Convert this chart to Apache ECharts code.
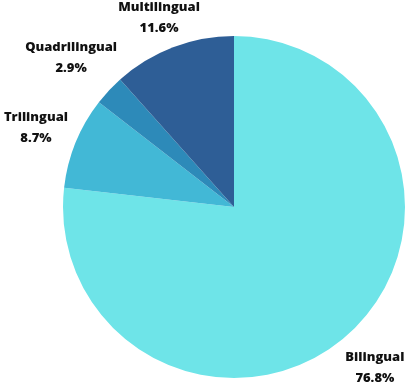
<!DOCTYPE html>
<html><head><meta charset="utf-8">
<script src="https://cdn.jsdelivr.net/npm/echarts@6/dist/echarts.min.js"></script>
<style>html,body{margin:0;padding:0;background:#fff}#c{width:406px;height:382px}</style>
</head><body><div id="c"></div>
<script>
const categories = ['Bilingual', 'Trilingual', 'Quadrilingual', 'Multilingual'];
const values = [76.8, 8.7, 2.9, 11.6];
const colors = ['#6ee4e8', '#42b8d6', '#2d8ab9', '#2e5e96'];
const labelShift = [[-3, 0], [2, 2], [-5, -2], [2, 13]];

const chart = echarts.init(document.getElementById('c'));
const data = categories.map((n, i) => ({ name: n, value: values[i], itemStyle: { color: colors[i] } }));
const labelData = categories.map((n, i) => ({ name: n, value: values[i], label: { offset: labelShift[i] } }));
chart.setOption({
  animation: false,
  series: [
    {
      type: 'pie', center: [234, 207], radius: [0, 171], startAngle: 90, clockwise: true,
      label: { show: false }, labelLine: { show: false }, silent: true, data: data
    },
    {
      type: 'pie', center: [234, 207], radius: [171, 255], startAngle: 90, clockwise: true,
      silent: true, itemStyle: { color: 'rgba(0,0,0,0)' },
      label: {
        show: true, position: 'inside', rotate: 0,
        formatter: p => p.name + '\n' + p.value.toFixed(1) + '%',
        fontFamily: 'Open Sans', fontWeight: 800, fontSize: 13, lineHeight: 21, color: '#111', align: 'center'
      },
      labelLine: { show: false }, data: labelData
    }
  ]
});
</script></body></html>
